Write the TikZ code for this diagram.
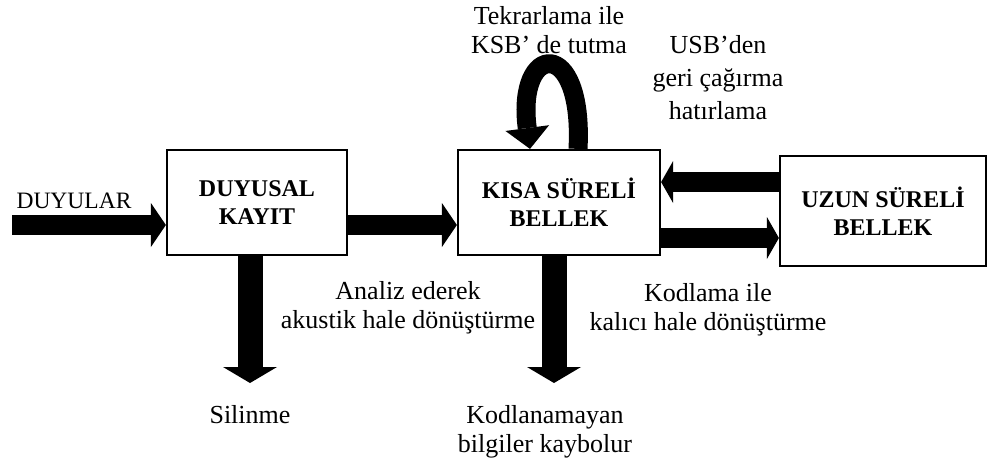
\documentclass[tikz,border=0pt]{standalone}
\usepackage{fontspec}
\setmainfont{Liberation Serif}
\usetikzlibrary{arrows.meta}
\tikzset{
  box/.style={draw, line width=2.2pt, inner sep=0pt, align=center,
    font=\fontsize{24}{28}\selectfont\bfseries},
  lbl/.style={align=center, inner sep=0pt, anchor=base,
    font=\fontsize{26}{29}\selectfont},
  hbar/.style={line width=20pt, -{Triangle[width=44pt,length=15pt,line width=0pt]}},
  hbartwo/.style={line width=20pt, -{Triangle[width=42pt,length=12pt,line width=0pt]}},
  vbar/.style={line width=25pt, -{Triangle[width=54pt,length=16pt,line width=0pt]}},
  loopbar/.style={line width=19pt, -{Triangle[width=44pt,length=21pt,line width=0pt]}}
}
\begin{document}
\begin{tikzpicture}[x=1pt,y=-1pt]
\useasboundingbox (0,0) rectangle (990,469);
% boxes
\node[box, minimum width=180pt, minimum height=105pt] (ds) at (257,202.5) {DUYUSAL\\KAYIT};
\node[box, minimum width=202pt, minimum height=105pt] (ks) at (559,202.5) {KISA SÜRELİ\\BELLEK};
\node[box, minimum width=206pt, minimum height=110pt] (us) at (883,211) {UZUN SÜRELİ\\BELLEK};
% connectors
\coordinate (src) at (12,225);
\draw[hbar] (src) -- ([yshift=-22.5pt]ds.west);
\draw[hbar] ([yshift=-22.5pt]ds.east) -- ([yshift=-22.5pt]ks.west);
\draw[hbartwo] ([yshift=29pt]us.west) -- ([yshift=20.5pt]ks.east);
\draw[hbartwo] ([yshift=-35.5pt]ks.east) -- ([yshift=-27pt]us.west);
\coordinate (sil) at (250,383);
\draw[vbar] ([xshift=-7pt]ds.south) -- (sil);
\coordinate (kay) at (554,383);
\draw[vbar] ([xshift=-5pt]ks.south) -- (kay);
\draw[loopbar] ([xshift=19pt]ks.north) .. controls +(6,-114) and +(-14,-106) .. ([xshift=-29pt]ks.north);
% labels
\node[lbl, font=\fontsize{23.5}{28}\selectfont] (duy) at (74,208) {DUYULAR};
\node[lbl] (tek) at (549,53) {Tekrarlama ile\\KSB’ de tutma};
\node[lbl, font=\fontsize{26}{33}\selectfont] (usb) at (718,119) {USB’den\\geri çağırma\\hatırlama};
\node[lbl] (ana) at (408,328) {Analiz ederek\\akustik hale dönüştürme};
\node[lbl] (kod) at (708,330) {Kodlama ile\\kalıcı hale dönüştürme};
\node[lbl] (sln) at (250,423) {Silinme};
\node[lbl] (kyb) at (545,452) {Kodlanamayan\\bilgiler kaybolur};
\end{tikzpicture}
\end{document}
